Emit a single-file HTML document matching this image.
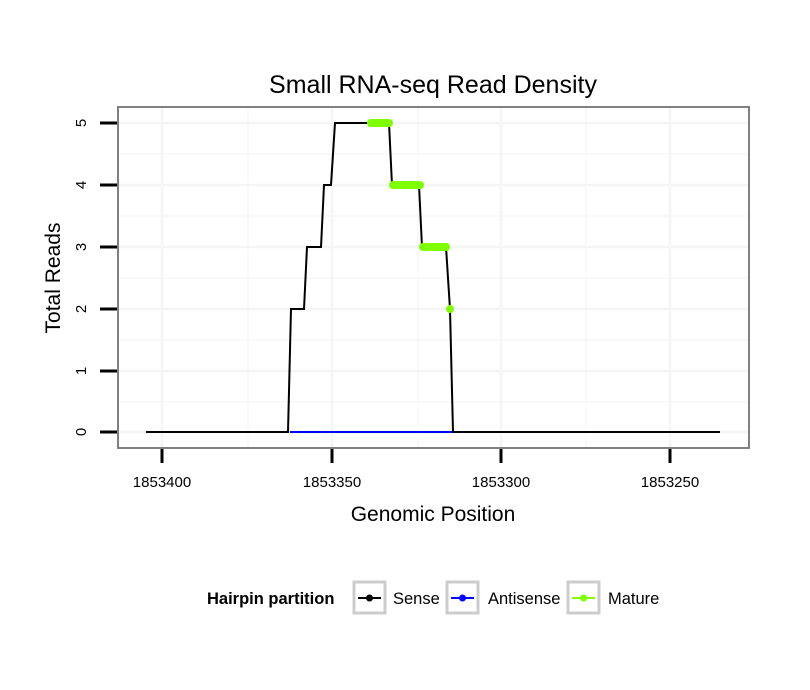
<!DOCTYPE html>
<html><head><meta charset="utf-8"><style>body{margin:0;background:#fff}svg{display:block}</style></head><body>
<svg width="810" height="690" xmlns="http://www.w3.org/2000/svg" font-family="Liberation Sans, sans-serif">
<rect width="810" height="690" fill="#fff"/>
<text x="433" y="93" font-size="25" text-anchor="middle">Small RNA-seq Read Density</text>
<g stroke="#f5f5f5" stroke-width="1.2">
<line x1="248" y1="107" x2="248" y2="448"/><line x1="418" y1="107" x2="418" y2="448"/><line x1="586" y1="107" x2="586" y2="448"/>
<line x1="118" y1="154" x2="749" y2="154"/><line x1="118" y1="216" x2="749" y2="216"/><line x1="118" y1="278" x2="749" y2="278"/><line x1="118" y1="340" x2="749" y2="340"/><line x1="118" y1="402" x2="749" y2="402"/>
</g>
<g stroke="#f5f5f5" stroke-width="2.5">
<line x1="162" y1="107" x2="162" y2="448"/><line x1="332" y1="107" x2="332" y2="448"/><line x1="501" y1="107" x2="501" y2="448"/><line x1="670" y1="107" x2="670" y2="448"/>
<line x1="118" y1="123" x2="749" y2="123"/><line x1="118" y1="185" x2="749" y2="185"/><line x1="118" y1="247" x2="749" y2="247"/><line x1="118" y1="309" x2="749" y2="309"/><line x1="118" y1="371" x2="749" y2="371"/><line x1="118" y1="432" x2="749" y2="432"/>
</g>
<line x1="290" y1="432" x2="453" y2="432" stroke="#0000ff" stroke-width="2"/>
<polyline fill="none" stroke="#000" stroke-width="2" points="146,432 288,432 291,309 304,309 307,247 321,247 324,185 331,185 335,123 389,123 392,185 419,185 422,247 446,247 450,309 453,432 720,432"/>
<g stroke="#7fff00" stroke-width="8" stroke-linecap="round">
<line x1="371" y1="123" x2="389" y2="123"/><line x1="393" y1="185" x2="420" y2="185"/><line x1="423" y1="247" x2="446" y2="247"/>
</g>
<circle cx="450" cy="309" r="4" fill="#7fff00"/>
<rect x="118" y="107" width="631" height="341" fill="none" stroke="#808080" stroke-width="2"/>
<g stroke="#000" stroke-width="3">
<line x1="162" y1="449" x2="162" y2="463"/><line x1="332" y1="449" x2="332" y2="463"/><line x1="501" y1="449" x2="501" y2="463"/><line x1="670" y1="449" x2="670" y2="463"/>
<line x1="100" y1="123" x2="117" y2="123"/><line x1="100" y1="185" x2="117" y2="185"/><line x1="100" y1="247" x2="117" y2="247"/><line x1="100" y1="309" x2="117" y2="309"/><line x1="100" y1="371" x2="117" y2="371"/><line x1="100" y1="432" x2="117" y2="432"/>
</g>
<g font-size="15" text-anchor="middle">
<text x="162" y="487">1853400</text><text x="332" y="487">1853350</text><text x="501" y="487">1853300</text><text x="670" y="487">1853250</text>
</g>
<g font-size="15" text-anchor="middle">
<text transform="translate(86,123) rotate(-90)">5</text><text transform="translate(86,185) rotate(-90)">4</text><text transform="translate(86,247) rotate(-90)">3</text><text transform="translate(86,309) rotate(-90)">2</text><text transform="translate(86,371) rotate(-90)">1</text><text transform="translate(86,432) rotate(-90)">0</text>
</g>
<text x="433" y="521" font-size="21" text-anchor="middle">Genomic Position</text>
<text transform="translate(60,278) rotate(-90)" font-size="21" text-anchor="middle">Total Reads</text>
<text x="207" y="604" font-size="16.5" font-weight="bold">Hairpin partition</text>
<g stroke="#ccc" stroke-width="3" fill="#fff">
<rect x="354" y="582" width="31" height="31"/><rect x="447" y="582" width="31" height="31"/><rect x="568" y="582" width="31" height="31"/>
</g>
<g stroke-width="2">
<line x1="358" y1="598" x2="381" y2="598" stroke="#000"/><line x1="451" y1="598" x2="474" y2="598" stroke="#00f"/><line x1="572" y1="598" x2="595" y2="598" stroke="#7fff00"/>
</g>
<circle cx="369.5" cy="598" r="3.5" fill="#000"/><circle cx="462.5" cy="598" r="3.5" fill="#00f"/><circle cx="583.5" cy="598" r="3.5" fill="#7fff00"/>
<g font-size="16.5"><text x="393" y="604">Sense</text><text x="488" y="604">Antisense</text><text x="608" y="604">Mature</text></g>
</svg>
</body></html>
